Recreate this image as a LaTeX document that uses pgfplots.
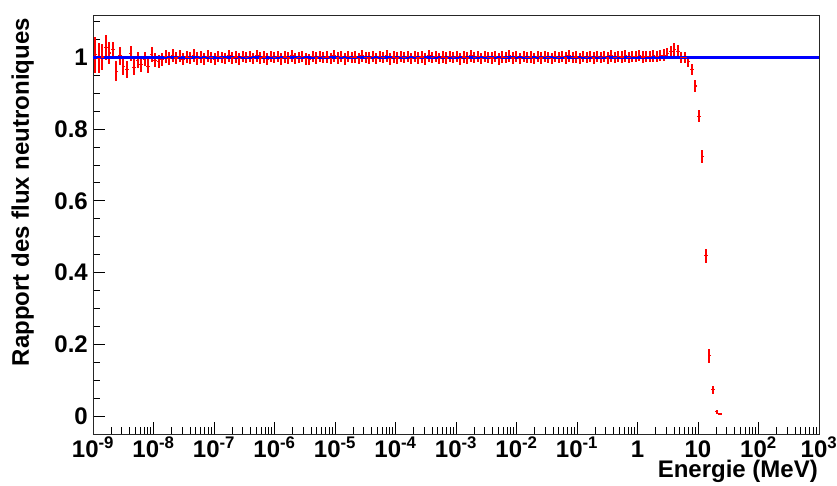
\documentclass[border=0pt]{standalone}
\usepackage{pgfplots}
\pgfplotsset{compat=1.18}
\usepackage{pgfplotstable}
\usepackage{fontspec}
\setmainfont{Liberation Sans}
\newcommand\lbl{\bfseries\fontsize{24}{28}\selectfont}
\newcommand\tp[1]{10\textsuperscript{#1}}
\definecolor{rootred}{RGB}{255,0,0}
\definecolor{rootblue}{RGB}{0,0,255}
\pgfplotstableread{
lx y ey
-8.960 1.007 0.050
-8.902 0.997 0.042
-8.844 1.001 0.037
-8.786 1.027 0.034
-8.728 1.012 0.030
-8.670 1.022 0.020
-8.612 0.961 0.028
-8.554 1.004 0.026
-8.496 0.975 0.024
-8.438 0.966 0.024
-8.380 1.011 0.021
-8.322 0.972 0.022
-8.264 0.992 0.022
-8.206 0.980 0.020
-8.148 0.995 0.020
-8.090 0.975 0.020
-8.032 1.008 0.020
-7.974 0.992 0.019
-7.916 0.989 0.018
-7.858 0.995 0.018
-7.800 1.002 0.018
-7.742 0.996 0.018
-7.684 1.004 0.018
-7.626 0.998 0.017
-7.568 1.003 0.017
-7.510 0.995 0.017
-7.452 1.001 0.017
-7.394 0.999 0.017
-7.336 1.005 0.017
-7.278 0.997 0.017
-7.220 1.002 0.017
-7.162 0.996 0.017
-7.104 1.003 0.017
-7.046 0.999 0.016
-6.988 0.995 0.016
-6.930 1.002 0.016
-6.872 1.000 0.016
-6.814 0.997 0.016
-6.756 1.004 0.016
-6.698 0.998 0.016
-6.640 1.001 0.016
-6.582 0.996 0.016
-6.524 1.003 0.016
-6.466 0.999 0.016
-6.408 1.002 0.016
-6.350 0.997 0.016
-6.292 1.004 0.016
-6.234 0.998 0.016
-6.176 1.001 0.016
-6.118 0.995 0.016
-6.060 1.002 0.016
-6.002 0.999 0.016
-5.944 1.003 0.016
-5.886 0.996 0.016
-5.828 1.001 0.016
-5.770 0.998 0.016
-5.712 1.004 0.016
-5.654 0.997 0.016
-5.596 1.000 0.016
-5.538 1.003 0.016
-5.480 0.996 0.016
-5.422 0.994 0.016
-5.364 1.002 0.016
-5.306 0.998 0.016
-5.248 1.003 0.016
-5.190 0.999 0.016
-5.132 1.001 0.016
-5.074 0.997 0.016
-5.016 1.004 0.016
-4.958 0.998 0.016
-4.900 1.002 0.016
-4.842 0.996 0.016
-4.784 1.003 0.016
-4.726 0.999 0.016
-4.668 1.001 0.016
-4.610 0.997 0.016
-4.552 1.004 0.016
-4.494 1.000 0.016
-4.436 0.998 0.016
-4.378 1.003 0.016
-4.320 0.997 0.016
-4.262 1.002 0.016
-4.204 0.999 0.016
-4.146 1.004 0.016
-4.088 0.996 0.016
-4.030 1.001 0.016
-3.972 0.998 0.016
-3.914 1.003 0.016
-3.856 0.999 0.016
-3.798 1.002 0.016
-3.740 0.997 0.016
-3.682 1.003 0.016
-3.624 0.998 0.016
-3.566 1.001 0.016
-3.508 0.996 0.016
-3.450 1.004 0.016
-3.392 0.999 0.016
-3.334 1.002 0.016
-3.276 0.997 0.016
-3.218 1.001 0.016
-3.160 0.998 0.016
-3.102 1.003 0.016
-3.044 0.999 0.016
-2.986 1.002 0.016
-2.928 0.996 0.016
-2.870 1.001 0.016
-2.812 0.998 0.016
-2.754 1.004 0.016
-2.696 0.999 0.016
-2.638 1.002 0.016
-2.580 0.997 0.016
-2.522 1.003 0.016
-2.464 1.000 0.016
-2.406 0.998 0.016
-2.348 1.002 0.016
-2.290 0.996 0.016
-2.232 1.001 0.016
-2.174 0.999 0.016
-2.116 1.004 0.016
-2.058 0.998 0.016
-2.000 1.002 0.016
-1.942 0.997 0.016
-1.884 1.003 0.016
-1.826 0.999 0.016
-1.768 1.001 0.016
-1.710 0.997 0.016
-1.652 1.003 0.016
-1.594 0.998 0.016
-1.536 1.002 0.016
-1.478 1.000 0.016
-1.420 0.997 0.016
-1.362 1.003 0.016
-1.304 0.999 0.016
-1.246 1.002 0.016
-1.188 0.998 0.016
-1.130 1.004 0.016
-1.072 0.999 0.016
-1.014 1.001 0.016
-0.956 0.997 0.016
-0.898 1.003 0.016
-0.840 0.999 0.016
-0.782 1.002 0.016
-0.724 0.998 0.016
-0.666 1.003 0.016
-0.608 1.000 0.016
-0.550 1.002 0.016
-0.492 0.998 0.016
-0.434 1.004 0.016
-0.376 1.000 0.016
-0.318 1.002 0.016
-0.260 1.001 0.016
-0.202 1.004 0.016
-0.144 1.000 0.016
-0.086 1.003 0.016
-0.028 1.002 0.016
0.030 1.005 0.016
0.088 1.001 0.016
0.146 1.003 0.016
0.204 1.002 0.016
0.262 1.004 0.016
0.320 1.003 0.016
0.378 1.005 0.016
0.436 1.006 0.016
0.494 1.010 0.016
0.552 1.016 0.016
0.610 1.022 0.018
0.668 1.017 0.016
0.726 1.000 0.016
0.784 0.999 0.016
0.842 0.988 0.015
0.900 0.967 0.015
0.958 0.920 0.016
1.016 0.836 0.017
1.074 0.723 0.018
1.132 0.447 0.020
1.190 0.168 0.020
1.248 0.073 0.012
1.306 0.012 0.005
1.364 0.006 0.002
}\ratio
\begin{document}
\begin{tikzpicture}
\useasboundingbox (-93pt,-51pt) rectangle (744pt,434pt);
\begin{axis}[
  at={(0pt,0pt)}, anchor=south west,
  scale only axis, width=726pt, height=419pt,
  xmode=log, log basis x=10,
  xmin=1e-9, xmax=1e3, ymin=-0.05, ymax=1.118,
  axis line style={black!85, line width=0.8pt},
  tick style={black, line width=0.8pt},
  tick align=inside, tick pos=left,
  major tick length=12pt, minor tick length=7pt,
  xtick={1e-9,1e-8,1e-7,1e-6,1e-5,1e-4,1e-3,1e-2,1e-1,1,10,1e2,1e3},
  xticklabels={\tp{-9},\tp{-8},\tp{-7},\tp{-6},\tp{-5},\tp{-4},\tp{-3},\tp{-2},\tp{-1},1,10,\tp{2},\tp{3}},
  minor xtick={2e-9,3e-9,4e-9,5e-9,6e-9,7e-9,8e-9,9e-9,
    2e-8,3e-8,4e-8,5e-8,6e-8,7e-8,8e-8,9e-8,
    2e-7,3e-7,4e-7,5e-7,6e-7,7e-7,8e-7,9e-7,
    2e-6,3e-6,4e-6,5e-6,6e-6,7e-6,8e-6,9e-6,
    2e-5,3e-5,4e-5,5e-5,6e-5,7e-5,8e-5,9e-5,
    2e-4,3e-4,4e-4,5e-4,6e-4,7e-4,8e-4,9e-4,
    2e-3,3e-3,4e-3,5e-3,6e-3,7e-3,8e-3,9e-3,
    2e-2,3e-2,4e-2,5e-2,6e-2,7e-2,8e-2,9e-2,
    0.2,0.3,0.4,0.5,0.6,0.7,0.8,0.9,
    2,3,4,5,6,7,8,9,
    20,30,40,50,60,70,80,90,
    200,300,400,500,600,700,800,900},
  ytick={0,0.2,0.4,0.6,0.8,1},
  yticklabels={0,0.2,0.4,0.6,0.8,1},
  minor ytick={-0.05,0.05,0.1,0.15,0.25,0.3,0.35,0.45,0.5,0.55,0.65,0.7,0.75,0.85,0.9,0.95,1.05,1.1},
  ticklabel style={font=\lbl, inner sep=0pt},
  xticklabel style={anchor=base, yshift=-23.5pt},
  yticklabel style={anchor=east, xshift=-5pt},
]
\addplot[draw=rootred, line width=2pt, only marks, mark=-, mark size=1.75pt,
  mark options={solid, draw=rootred, line width=1.2pt},
  error bars/y dir=both, error bars/y explicit, error bars/error mark=none,
  error bars/error bar style={solid, draw=rootred, line width=2pt}]
  table[x expr={10^(\thisrow{lx})}, y=y, y error=ey]{\ratio};
\addplot[rootblue, line width=2.4pt] coordinates {(1e-9,1) (1e3,1)};
\end{axis}
\node[rotate=90, anchor=base east, inner sep=0pt, font=\lbl] at (-64pt,416pt) {Rapport des flux neutroniques};
\node[anchor=base east, inner sep=0pt, font=\lbl] at (725pt,-43.5pt) {Energie (MeV)};
\end{tikzpicture}
\end{document}
